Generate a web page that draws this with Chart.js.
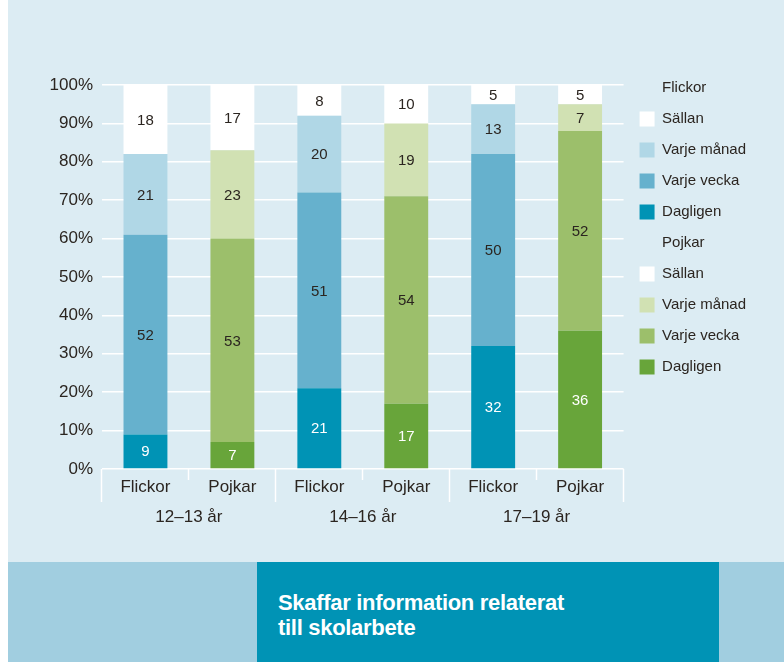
<!DOCTYPE html>
<html lang="sv">
<head>
<meta charset="utf-8">
<script src="https://cdn.jsdelivr.net/npm/chart.js@4"></script>
<style>
  body { margin: 0; background: #ffffff; font-family: "Liberation Sans", Arial, sans-serif; }
  #panel { position: absolute; left: 8px; top: 0; width: 776px; height: 562px; background: #dcecf3; }
  #chart { position: absolute; left: 0; top: 0; }
  #band { position: absolute; left: 8px; top: 562px; width: 776px; height: 100px; background: #a1cee0; }
  #titlebox { position: absolute; left: 257px; top: 562px; width: 462px; height: 100px; background: #0093b5; }
  #titlebox p { margin: 0; position: absolute; left: 21px; top: 28px; color: #ffffff;
    font-weight: bold; font-size: 22px; line-height: 25px; letter-spacing: -0.3px; }
</style>
</head>
<body>
<div id="panel"></div>
<canvas id="chart" width="784" height="562"></canvas>
<div id="band"></div>
<div id="titlebox"><p>Skaffar information relaterat<br>till skolarbete</p></div>
<script>
// data
const groups = ['12–13 år', '14–16 år', '17–19 år'];
const bars = ['Flickor', 'Pojkar', 'Flickor', 'Pojkar', 'Flickor', 'Pojkar'];
const genders = ['Flickor', 'Pojkar'];
const series = ['Dagligen', 'Varje vecka', 'Varje månad', 'Sällan'];
const dagligen = [9, 7, 21, 17, 32, 36];
const varjeVecka = [52, 53, 51, 54, 50, 52];
const varjeManad = [21, 23, 20, 19, 13, 7];
const sallan = [18, 17, 8, 10, 5, 5];

// colours per gender, same order as series
const palette = {
    Flickor: ['#0093b5', '#66b1cd', '#b0d7e6', '#ffffff'],
    Pojkar: ['#68a53a', '#9cbf6b', '#d1e1b3', '#ffffff']
};
const textColor = '#2b2520';
const fontFamily = '"Liberation Sans", Arial, sans-serif';

const values = [dagligen, varjeVecka, varjeManad, sallan];
const datasets = series.map((name, s) => ({
    label: name,
    data: values[s],
    backgroundColor: bars.map(b => palette[b][s]),
    borderWidth: 0,
    barPercentage: 0.505,
    categoryPercentage: 1
}));

// draws the numbers inside each segment
const valueLabels = {
    id: 'valueLabels',
    afterDatasetsDraw(chart) {
        const ctx = chart.ctx;
        ctx.save();
        ctx.font = '15px ' + fontFamily;
        ctx.textAlign = 'center';
        ctx.textBaseline = 'middle';
        chart.data.datasets.forEach((ds, i) => {
            const meta = chart.getDatasetMeta(i);
            meta.data.forEach((bar, j) => {
                ctx.fillStyle = i === 0 ? '#ffffff' : textColor;
                ctx.fillText(ds.data[j], bar.x, (bar.y + bar.base) / 2 + 1);
            });
        });
        ctx.restore();
    }
};

function legendItems() {
    const items = [];
    genders.forEach(g => {
        items.push({ text: g, fillStyle: 'rgba(0,0,0,0)', strokeStyle: 'rgba(0,0,0,0)',
            lineWidth: 0, hidden: false, fontColor: textColor });
        for (let s = series.length - 1; s >= 0; s--) {
            items.push({ text: series[s], fillStyle: palette[g][s], strokeStyle: palette[g][s],
                lineWidth: 0, hidden: false, fontColor: textColor });
        }
    });
    return items;
}

new Chart(document.getElementById('chart'), {
    type: 'bar',
    data: { labels: bars, datasets: datasets },
    plugins: [valueLabels],
    options: {
        responsive: false,
        animation: false,
        layout: { padding: { top: 64.5, right: 28, bottom: 27, left: 0 } },
        plugins: {
            // empty title only pushes the plot area below the legend top
            title: { display: true, text: '', padding: { top: 0, bottom: 10.5 }, font: { size: 10, lineHeight: 1 } },
            tooltip: { enabled: false },
            legend: {
                position: 'right',
                align: 'start',
                onClick: null,
                labels: {
                    boxWidth: 15,
                    boxHeight: 15,
                    padding: 16,
                    color: textColor,
                    font: { family: fontFamily, size: 15 },
                    generateLabels: legendItems
                }
            }
        },
        scales: {
            x: {
                stacked: true,
                weight: 0,
                border: { display: false },
                grid: {
                    offset: true,
                    drawOnChartArea: false,
                    drawTicks: true,
                    tickLength: 33,
                    tickColor: '#ffffff',
                    tickWidth: 1.5,
                    tickBorderDash: ctx => (ctx.index % 2 === 1 ? [11, 60] : [])
                },
                ticks: { color: textColor, padding: -25.2, font: { family: fontFamily, size: 17 } },
                afterFit: scale => { scale.height = 30; }
            },
            x2: {
                type: 'category',
                position: 'bottom',
                labels: groups,
                weight: 1,
                offset: true,
                border: { display: false },
                grid: { display: false, drawTicks: false },
                ticks: { color: textColor, padding: 7.8, font: { family: fontFamily, size: 17 } }
            },
            y: {
                stacked: true,
                min: 0,
                max: 100,
                border: { display: false },
                grid: { color: '#ffffff', lineWidth: 1.5, drawTicks: false },
                ticks: {
                    stepSize: 10,
                    padding: 9,
                    color: textColor,
                    font: { family: fontFamily, size: 17 },
                    callback: v => v + '%'
                },
                afterFit: scale => { scale.width = 102; }
            }
        }
    }
});
</script>
</body>
</html>
